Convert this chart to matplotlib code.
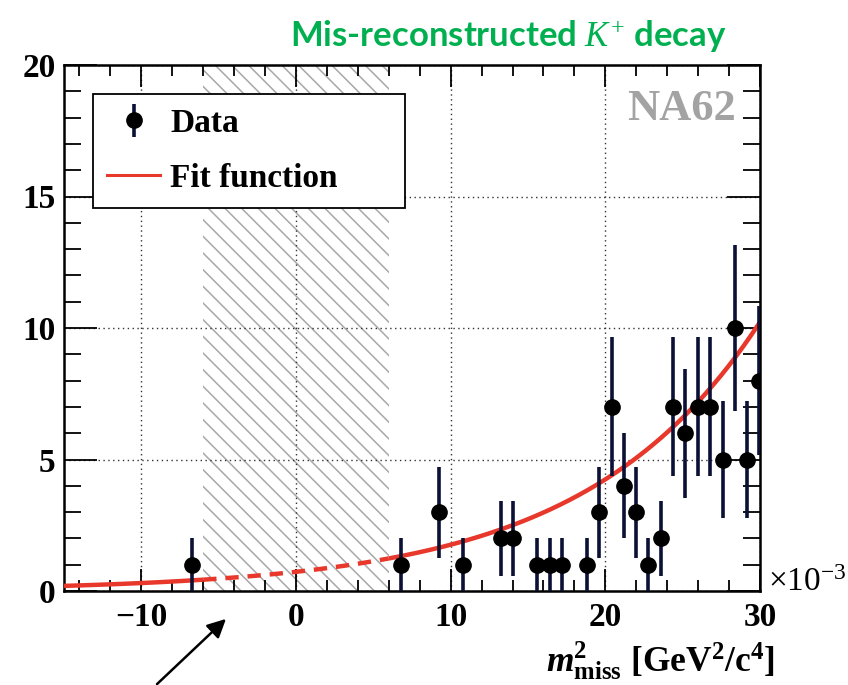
import numpy as np
import matplotlib
matplotlib.use("Agg")
import matplotlib.pyplot as plt
from matplotlib.ticker import MultipleLocator
from matplotlib.lines import Line2D

plt.rcParams['mathtext.fontset'] = 'custom'
plt.rcParams['mathtext.rm'] = 'Liberation Serif'
plt.rcParams['mathtext.it'] = 'Liberation Serif:italic'
plt.rcParams['mathtext.bf'] = 'Liberation Serif:bold'
plt.rcParams['mathtext.bfit'] = 'Liberation Serif:bold:italic'
plt.rcParams['hatch.linewidth'] = 1.1

# ---- data (x in units of 1e-3 GeV^2/c^4) ----
x_data = [-6.75, 6.82, 9.24, 10.82, 13.24, 14.0, 15.6, 16.4, 17.2, 18.79, 19.57,
          20.4, 21.19, 21.99, 22.79, 23.6, 24.36, 25.18, 25.98, 26.78, 27.6,
          28.4, 29.16, 29.94]
counts = [1, 1, 3, 1, 2, 2, 1, 1, 1, 1, 3,
          7, 4, 3, 1, 2, 7, 6, 7, 7, 5,
          10, 5, 8]
errors = np.sqrt(counts)

# fit function parameters: y = A * exp(b * x)
fit_A = 0.73
fit_b = 0.088
x_min, x_max = -15, 30
excl_lo, excl_hi = -6, 6

x_ticks = [-10, 0, 10, 20, 30]
x_ticklabels = ['\u221210', '0', '10', '20', '30']
y_ticks = [0, 5, 10, 15, 20]

fig = plt.figure(figsize=(8.48, 6.85), dpi=100)
ax = fig.add_axes([64/848, 1-591/685, (760-64)/848, (591-65)/685])

ax.set_xlim(x_min, x_max)
ax.set_ylim(0, 20)

# hatched exclusion region
ax.axvspan(excl_lo, excl_hi, facecolor='none', edgecolor='#a8a8a8',
           hatch='\\\\', linewidth=0, zorder=1)

ax.grid(True, which='major', linestyle=(0, (1, 2.5)), color='#333333', linewidth=1.0, zorder=2)

def fit(x):
    return fit_A * np.exp(fit_b * np.asarray(x))

red = '#e8382b'
xs1 = np.linspace(x_min, excl_lo, 100)
xs2 = np.linspace(excl_lo, excl_hi, 100)
xs3 = np.linspace(excl_hi, x_max, 200)
ax.plot(xs1, fit(xs1), color=red, lw=3.2, zorder=3, solid_capstyle='butt')
ax.plot(xs2, fit(xs2), color=red, lw=3.2, zorder=3, linestyle=(0, (3.0, 2.0)), dash_capstyle='butt')
ax.plot(xs3, fit(xs3), color=red, lw=3.2, zorder=3, solid_capstyle='butt')

eb = ax.errorbar(x_data, counts, yerr=errors, fmt='o', color='black', ecolor='#0b1035',
                 elinewidth=2.6, markersize=11, capsize=0, zorder=4, clip_on=True)

# legend
fit_handle = Line2D([], [], color=red, lw=2.2)
leg_h = 0.01
leg = ax.legend([eb, fit_handle], ['Data', 'Fit function'],
                loc='upper left', bbox_to_anchor=(29/696, 1-29/526-leg_h, 312/696, leg_h), mode='expand',
                prop={'family': 'Liberation Serif', 'weight': 'bold', 'size': 24},
                frameon=True, fancybox=False, edgecolor='black', framealpha=1,
                borderpad=0.42, labelspacing=0.72, handlelength=1.6, handletextpad=0.3,
                borderaxespad=0)
leg.get_frame().set_linewidth(1.3)

# ticks
ax.set_xticks(x_ticks)
ax.set_xticklabels(x_ticklabels)
ax.set_yticks(y_ticks)
ax.xaxis.set_minor_locator(MultipleLocator(2))
ax.yaxis.set_minor_locator(MultipleLocator(1))
ax.tick_params(axis='both', which='both', direction='in', top=True, right=True, width=1.3)
ax.tick_params(axis='x', which='major', length=16, pad=8)
ax.tick_params(axis='x', which='minor', length=8)
ax.tick_params(axis='y', which='major', length=24, pad=6)
ax.tick_params(axis='y', which='minor', length=12)
for lab in ax.get_xticklabels() + ax.get_yticklabels():
    lab.set_fontfamily('Liberation Serif')
    lab.set_fontweight('bold')
    lab.set_fontsize(24)
for sp in ax.spines.values():
    sp.set_linewidth(1.8)

# NA62 label
ax.text(0.965, 0.955, 'NA62', transform=ax.transAxes, ha='right', va='top',
        fontfamily='Liberation Serif', fontweight='bold', fontsize=32, color='#a3a3a3')

# axis label and exponent
fig.text(775/848, 1-672/685, r'$\mathbfit{m}^{\mathbf{2}}_{\mathbf{miss}}$ [GeV$^{\mathbf{2}}$/c$^{\mathbf{4}}$]',
         ha='right', va='baseline', fontfamily='Liberation Serif', fontweight='bold', fontsize=25.5)
fig.text(768/848, 1-591/685, r'$\times$10$^{-3}$', ha='left', va='baseline',
         fontfamily='Liberation Serif', fontsize=24)

# title
fig.text(508/848, 1-47/685, r'Mis-reconstructed $K^{+}$ decay', ha='center', va='baseline',
         fontfamily='Lato', fontweight='bold', fontsize=25, color='#00b050')

# arrow
fig.add_artist(matplotlib.patches.FancyArrowPatch(
    (155/848, 1-686/685), (228/848, 1-617/685), transform=fig.transFigure,
    arrowstyle='-|>', mutation_scale=28, color='black', lw=1.8))

fig.savefig('out.png', dpi=100)
